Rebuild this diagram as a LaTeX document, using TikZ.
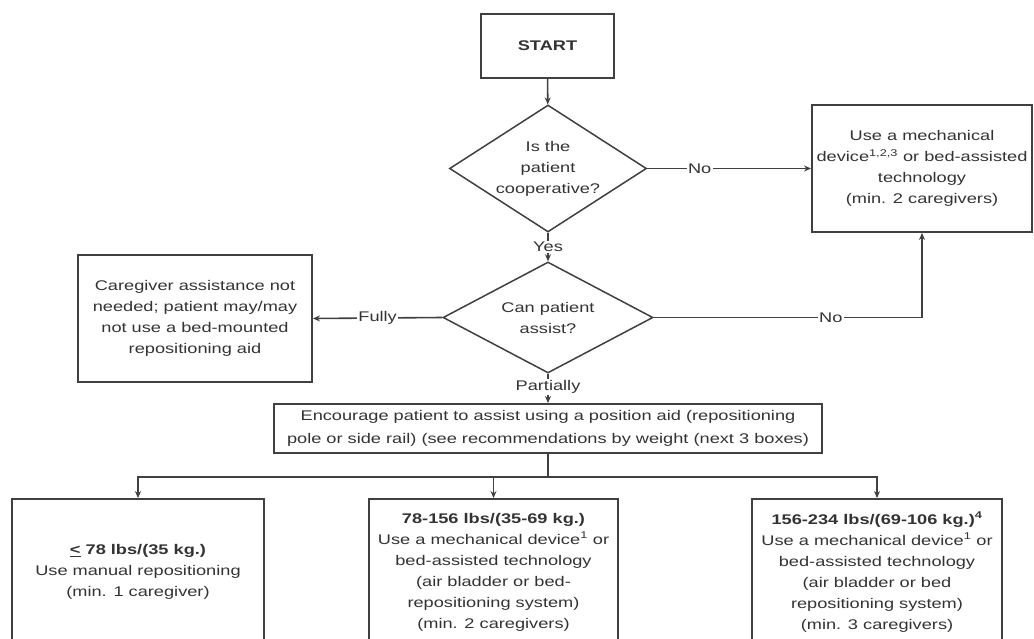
\documentclass[tikz,border=0pt]{standalone}
\usepackage{fontspec}
\setmainfont{Liberation Sans}[FakeStretch=1.3]
\usetikzlibrary{shapes.geometric,arrows.meta}
\tikzset{
  box/.style={draw=black!75, line width=1.9pt, rectangle, inner sep=0pt, align=center, text=black!80},
  dia/.style={draw=black!75, line width=1.5pt, diamond, inner sep=0pt},
  txt/.style={align=center, inner sep=0pt, text=black!80},
  conn/.style={draw=black!75, line width=1.6pt},
  arr/.style={conn, -{Stealth[length=7pt,width=6pt]}},
  lab/.style={fill=white, inner sep=1.5pt, text=black!80}
}
\begin{document}
\begin{tikzpicture}[x=1pt,y=-1pt, font=\fontsize{14}{21}\selectfont]
\useasboundingbox[fill=white] (0,0) rectangle (1034,639);
% nodes
\node[box, minimum width=133, minimum height=64] (start) at (547.5,46) {\textbf{START}};
\node[dia, minimum width=197, minimum height=127] (d1) at (548,168.5) {};
\node[txt] (d1t) at (d1.center) {Is the\\patient\\cooperative?};
\node[box, minimum width=220, minimum height=127] (r1) at (922,168.5) {Use a mechanical\\device\textsuperscript{1,2,3} or bed-assisted\\technology\\(min. 2 caregivers)};
\node[dia, minimum width=210, minimum height=111] (d2) at (548,317.5) {};
\node[txt] (d2t) at (d2.center) {Can patient\\assist?};
\node[box, minimum width=234, minimum height=127] (lb) at (195,318.5) {Caregiver assistance not\\needed; patient may/may\\not use a bed-mounted\\repositioning aid};
\node[box, minimum width=548, minimum height=49, font=\fontsize{14}{23}\selectfont] (wide) at (548,428.5) {Encourage patient to assist using a position aid (repositioning\\pole or side rail) (see recommendations by weight (next 3 boxes)};
\node[box, minimum width=252, minimum height=146] (b1) at (138,572) {\textbf{\underline{<} 78 lbs/(35 kg.)}\\Use manual repositioning\\(min. 1 caregiver)};
\node[box, minimum width=249, minimum height=146] (b2) at (493.5,572) {\textbf{78-156 lbs/(35-69 kg.)}\\Use a mechanical device\textsuperscript{1} or\\bed-assisted technology\\(air bladder or bed-\\repositioning system)\\(min. 2 caregivers)};
\node[box, minimum width=250, minimum height=146] (b3) at (877,572) {\textbf{156-234 lbs/(69-106 kg.)\textsuperscript{4}}\\Use a mechanical device\textsuperscript{1} or\\bed-assisted technology\\(air bladder or bed\\repositioning system)\\(min. 3 caregivers)};
\coordinate (j) at (548,477);
% connectors
\draw[arr] (start) -- (d1);
\draw[arr] (d1.east) -- node[lab, pos=0.32] {No} (r1.west);
\draw[arr] (d1.south) -- node[lab] {Yes} (d2.north);
\draw[arr] (d2.west) -- node[lab] {Fully} (lb.east);
\draw[arr] (d2.east) -| node[lab, pos=0.33] {No} (r1.south);
\draw[arr] (d2.south) -- node[lab, pos=0.45] {Partially} (wide.north);
\draw[conn] (wide.south) -- (j);
\draw[arr] (j) -| (b1.north);
\draw[arr] (j) -| (b2.north);
\draw[arr] (j) -| (b3.north);
\end{tikzpicture}
\end{document}
